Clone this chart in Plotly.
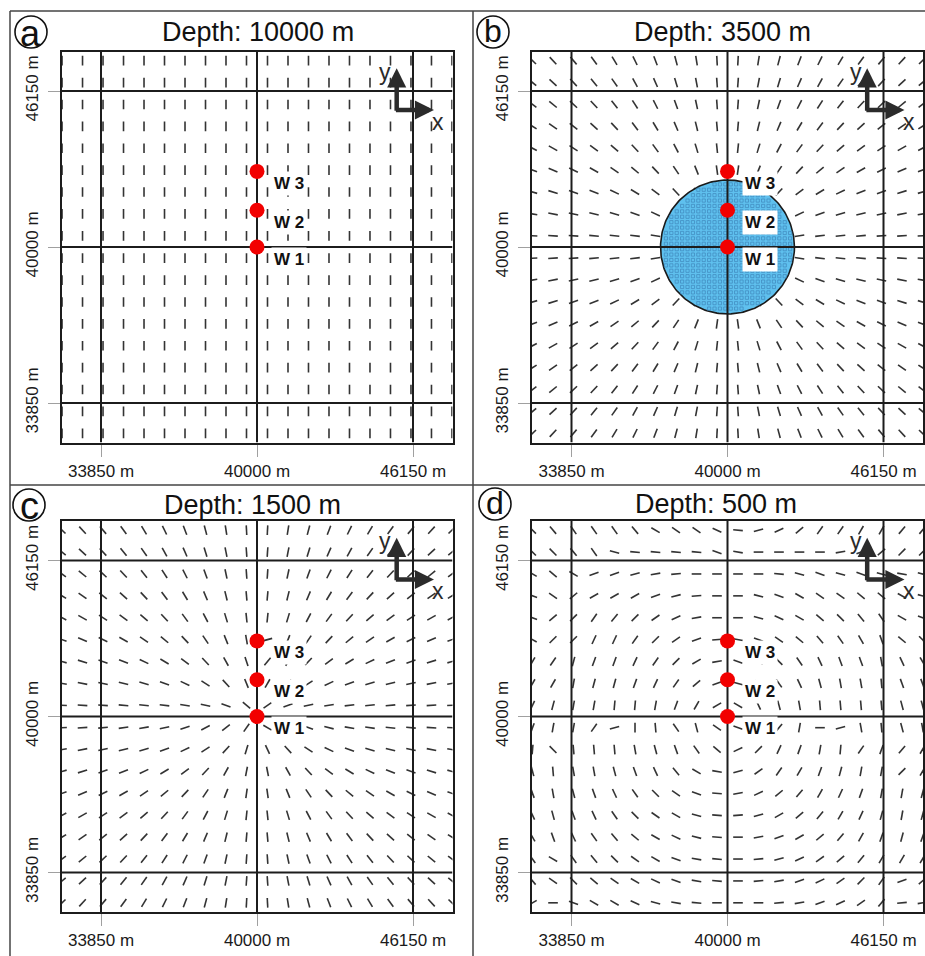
import numpy as np
import plotly.graph_objects as go

# ---------------- data ----------------
GRID_X = [32314, 33122, 33930, 34738, 35546, 36354, 37162, 37970, 38778, 39586,
          40414, 41222, 42030, 42838, 43646, 44454, 45262, 46070, 46878, 47686]
GRID_Y = [47345, 46482, 45619, 44756, 43893, 43030, 42167, 41304, 40441,
          39559, 38696, 37833, 36970, 36107, 35244, 34381, 33518, 32655]

TICKS = [33850, 40000, 46150]
TICK_TEXT = ["33850 m", "40000 m", "46150 m"]
AXIS_RANGE = [32293, 47707]

WELL_NAMES = ["W 1", "W 2", "W 3"]
WELL_X = [40000, 40000, 40000]
WELL_Y = [40000, 41450, 42980]

DEPTH_TITLES = ["Depth: 10000 m", "Depth: 3500 m", "Depth: 1500 m", "Depth: 500 m"]
PANEL_LETTERS = ["a", "b", "c", "d"]
ZONE_RADIUS_B = 2640   # radius of the blue zone in panel b (m)

# orientation (degrees from +x) of the stress-direction ticks, rows top->bottom, cols left->right
ANG_A = [
    [90, 90, 90, 90, 90, 90, 90, 90, 90, 90, 90, 90, 90, 90, 90, 90, 90, 90, 90, 90],
    [90, 90, 90, 90, 90, 90, 90, 90, 90, 90, 90, 90, 90, 90, 90, 90, 90, 90, 90, 90],
    [90, 90, 90, 90, 90, 90, 90, 90, 90, 90, 90, 90, 90, 90, 90, 90, 90, 90, 90, 90],
    [90, 90, 90, 90, 90, 90, 90, 90, 90, 90, 90, 90, 90, 90, 90, 90, 90, 90, 90, 90],
    [90, 90, 90, 90, 90, 90, 90, 90, 90, 90, 90, 90, 90, 90, 90, 90, 90, 90, 90, 90],
    [90, 90, 90, 90, 90, 90, 90, 90, 90, 90, 90, 90, 90, 90, 90, 90, 90, 90, 90, 90],
    [90, 90, 90, 90, 90, 90, 90, 90, 90, 90, 90, 90, 90, 90, 90, 90, 90, 90, 90, 90],
    [90, 90, 90, 90, 90, 90, 90, 90, 90, 90, 90, 90, 90, 90, 90, 90, 90, 90, 90, 90],
    [90, 90, 90, 90, 90, 90, 90, 90, 90, 90, 90, 90, 90, 90, 90, 90, 90, 90, 90, 90],
    [90, 90, 90, 90, 90, 90, 90, 90, 90, 90, 90, 90, 90, 90, 90, 90, 90, 90, 90, 90],
    [90, 90, 90, 90, 90, 90, 90, 90, 90, 90, 90, 90, 90, 90, 90, 90, 90, 90, 90, 90],
    [90, 90, 90, 90, 90, 90, 90, 90, 90, 90, 90, 90, 90, 90, 90, 90, 90, 90, 90, 90],
    [90, 90, 90, 90, 90, 90, 90, 90, 90, 90, 90, 90, 90, 90, 90, 90, 90, 90, 90, 90],
    [90, 90, 90, 90, 90, 90, 90, 90, 90, 90, 90, 90, 90, 90, 90, 90, 90, 90, 90, 90],
    [90, 90, 90, 90, 90, 90, 90, 90, 90, 90, 90, 90, 90, 90, 90, 90, 90, 90, 90, 90],
    [90, 90, 90, 90, 90, 90, 90, 90, 90, 90, 90, 90, 90, 90, 90, 90, 90, 90, 90, 90],
    [90, 90, 90, 90, 90, 90, 90, 90, 90, 90, 90, 90, 90, 90, 90, 90, 90, 90, 90, 90],
    [90, 90, 90, 90, 90, 90, 90, 90, 90, 90, 90, 90, 90, 90, 90, 90, 90, 90, 90, 90],
]

ANG_B = [
    [136, 133, 130, 126, 121, 116, 111, 105, 99, 93, 87, 81, 75, 69, 64, 59, 54, 50, 47, 44],
    [140, 137, 133, 129, 125, 119, 114, 107, 101, 94, 86, 79, 73, 66, 61, 55, 51, 47, 43, 40],
    [144, 141, 137, 133, 128, 123, 117, 110, 102, 94, 86, 78, 70, 63, 57, 52, 47, 43, 39, 36],
    [148, 145, 142, 138, 133, 127, 121, 113, 104, 95, 85, 76, 67, 59, 53, 47, 42, 38, 35, 32],
    [153, 151, 147, 144, 139, 133, 126, 118, 107, 96, 84, 73, 62, 54, 47, 41, 36, 33, 29, 27],
    [159, 156, 154, 150, 146, 140, 133, 124, 112, 98, 82, 68, 56, 47, 40, 34, 30, 26, 24, 21],
    [164, 163, 160, 158, 154, 149, 143, 133, 119, 101, 79, 61, 47, 37, 31, 26, 22, 20, 17, 16],
    [170, 169, 168, 166, 164, 160, 155, 147, 133, 107, 73, 47, 33, 25, 20, 16, 14, 12, 11, 10],
    [177, 176, 176, 175, 174, 173, 171, 168, 160, 133, 47, 20, 12, 9, 7, 6, 5, 4, 4, 3],
    [3, 4, 4, 5, 6, 7, 9, 12, 20, 47, 133, 160, 168, 171, 173, 174, 175, 176, 176, 177],
    [10, 11, 12, 14, 16, 20, 25, 33, 47, 73, 107, 133, 147, 155, 160, 164, 166, 168, 169, 170],
    [16, 17, 20, 22, 26, 31, 37, 47, 61, 79, 101, 119, 133, 143, 149, 154, 158, 160, 163, 164],
    [21, 24, 26, 30, 34, 40, 47, 56, 68, 82, 98, 112, 124, 133, 140, 146, 150, 154, 156, 159],
    [27, 29, 33, 36, 41, 47, 54, 62, 73, 84, 96, 107, 118, 126, 133, 139, 144, 147, 151, 153],
    [32, 35, 38, 42, 47, 53, 59, 67, 76, 85, 95, 104, 113, 121, 127, 133, 138, 142, 145, 148],
    [36, 39, 43, 47, 52, 57, 63, 70, 78, 86, 94, 102, 110, 117, 123, 128, 133, 137, 141, 144],
    [40, 43, 47, 51, 55, 61, 66, 73, 79, 86, 94, 101, 107, 114, 119, 125, 129, 133, 137, 140],
    [44, 47, 50, 54, 59, 64, 69, 75, 81, 87, 93, 99, 105, 111, 116, 121, 126, 130, 133, 136],
]

ANG_C = [
    [136, 133, 130, 126, 121, 116, 111, 105, 99, 93, 87, 81, 75, 69, 64, 59, 54, 50, 47, 44],
    [140, 137, 133, 129, 125, 119, 114, 107, 101, 94, 86, 79, 73, 66, 61, 55, 51, 47, 43, 40],
    [144, 141, 137, 133, 128, 123, 117, 110, 102, 94, 86, 78, 70, 63, 57, 52, 47, 43, 39, 36],
    [148, 145, 142, 138, 133, 127, 121, 113, 104, 95, 85, 76, 67, 59, 53, 47, 42, 38, 35, 32],
    [153, 151, 147, 144, 139, 133, 126, 118, 107, 96, 84, 73, 62, 54, 47, 41, 36, 33, 29, 27],
    [159, 156, 154, 150, 146, 140, 133, 124, 112, 100, 15, 68, 56, 47, 40, 34, 30, 26, 24, 21],
    [164, 163, 160, 158, 154, 149, 143, 133, 119, 108, 50, 61, 47, 37, 31, 26, 22, 20, 17, 16],
    [170, 169, 168, 166, 164, 160, 155, 147, 133, 112, 60, 47, 33, 25, 20, 16, 14, 12, 11, 10],
    [177, 176, 176, 175, 174, 173, 171, 168, 160, 140, 35, 20, 12, 9, 7, 6, 5, 4, 4, 3],
    [3, 4, 5, 8, 10, 12, 18, 28, 38, 55, 150, 165, 160, 166, 170, 172, 174, 175, 176, 177],
    [10, 11, 12, 14, 16, 20, 25, 33, 47, 73, 115, 133, 147, 155, 160, 164, 166, 168, 169, 170],
    [16, 17, 20, 22, 26, 31, 37, 47, 61, 79, 101, 119, 133, 143, 149, 154, 158, 160, 163, 164],
    [21, 24, 26, 30, 34, 40, 47, 56, 68, 82, 98, 112, 124, 133, 140, 146, 150, 154, 156, 159],
    [27, 29, 33, 36, 41, 47, 54, 62, 73, 84, 96, 107, 118, 126, 133, 139, 144, 147, 151, 153],
    [32, 35, 38, 42, 47, 53, 59, 67, 76, 85, 95, 104, 113, 121, 127, 133, 138, 142, 145, 148],
    [36, 39, 43, 47, 52, 57, 63, 70, 78, 86, 94, 102, 110, 117, 123, 128, 133, 137, 141, 144],
    [40, 43, 47, 51, 55, 61, 66, 73, 79, 86, 94, 101, 107, 114, 119, 125, 129, 133, 137, 140],
    [44, 47, 50, 54, 59, 64, 69, 75, 81, 87, 93, 99, 105, 111, 116, 121, 126, 130, 133, 136],
]

ANG_D = [
    [135, 130, 125, 125, 125, 130, 150, 145, 145, 155, 175, 15, 25, 40, 55, 55, 60, 60, 50, 50],
    [135, 135, 130, 125, 165, 175, 175, 175, 175, 160, 170, 0, 0, 0, 0, 10, 20, 40, 45, 45],
    [150, 140, 150, 20, 20, 15, 10, 5, 0, 0, 0, 0, 175, 165, 160, 165, 160, 165, 170, 165],
    [160, 145, 40, 30, 30, 30, 20, 15, 5, 0, 0, 165, 160, 150, 145, 145, 140, 140, 150, 165],
    [160, 40, 45, 55, 50, 45, 35, 25, 10, 0, 0, 165, 155, 150, 140, 135, 130, 125, 150, 160],
    [150, 45, 45, 65, 65, 55, 45, 35, 20, 5, 170, 160, 145, 140, 130, 125, 120, 110, 140, 135],
    [60, 55, 75, 70, 70, 65, 55, 45, 30, 10, 160, 150, 135, 125, 115, 110, 110, 100, 115, 120],
    [60, 60, 80, 75, 75, 70, 65, 55, 40, 20, 165, 140, 125, 115, 105, 100, 100, 95, 110, 110],
    [65, 75, 80, 80, 85, 85, 80, 70, 60, 30, 150, 115, 105, 100, 95, 95, 95, 95, 105, 105],
    [70, 80, 80, 55, 15, 90, 95, 125, 105, 145, 160, 30, 50, 80, 0, 15, 100, 95, 105, 100],
    [85, 135, 95, 95, 95, 100, 105, 110, 125, 140, 25, 45, 65, 70, 80, 85, 55, 70, 50, 60],
    [105, 95, 100, 100, 105, 110, 115, 130, 150, 170, 15, 35, 55, 60, 70, 75, 80, 80, 45, 60],
    [110, 100, 105, 110, 115, 125, 135, 145, 160, 175, 10, 25, 40, 50, 60, 65, 70, 80, 80, 75],
    [115, 105, 110, 115, 125, 135, 145, 150, 165, 175, 5, 15, 30, 40, 50, 60, 65, 75, 80, 75],
    [120, 110, 115, 125, 130, 140, 150, 155, 165, 175, 0, 10, 20, 30, 40, 50, 60, 70, 75, 70],
    [125, 150, 125, 130, 135, 145, 150, 160, 170, 175, 0, 5, 15, 25, 35, 40, 50, 60, 60, 60],
    [130, 145, 135, 140, 145, 150, 155, 160, 170, 175, 0, 5, 10, 20, 25, 35, 45, 55, 20, 40],
    [30, 0, 160, 150, 150, 155, 165, 170, 175, 0, 0, 0, 5, 10, 20, 25, 35, 50, 5, 10],
]

ANGLES = [ANG_A, ANG_B, ANG_C, ANG_D]

# ---------------- layout geometry ----------------
FIG_W, FIG_H = 925, 956
FONT = "Liberation Sans, Arial, sans-serif"
SEG_HALF = 190          # half length of an orientation tick (m)
M_PER_PX = (AXIS_RANGE[1] - AXIS_RANGE[0]) / 391.0


def px(x):
    return x / FIG_W


def py(y):
    return 1 - y / FIG_H


X_DOMAINS = [[px(61.5), px(452.5)], [px(532), px(923)], [px(61.5), px(452.5)], [px(532), px(923)]]
Y_DOMAINS = [[py(442.5), py(51.5)], [py(442.5), py(51.5)], [py(912), py(521)], [py(912), py(521)]]

fig = go.Figure()
annotations = []
shapes = []

seg_color = "#333333"
line_color = "#1c1c1c"

for i in range(4):
    sfx = "" if i == 0 else str(i + 1)
    xr, yr = "x" + sfx, "y" + sfx

    # orientation ticks
    xs, ys = [], []
    ang = ANGLES[i]
    for r, yc in enumerate(GRID_Y):
        for c, xc in enumerate(GRID_X):
            t = np.deg2rad(ang[r][c])
            dx, dy = SEG_HALF * np.cos(t), SEG_HALF * np.sin(t)
            xs += [xc - dx, xc + dx, None]
            ys += [yc - dy, yc + dy, None]
    fig.add_trace(go.Scatter(x=xs, y=ys, mode="lines", xaxis=xr, yaxis=yr,
                             line=dict(color=seg_color, width=1.6), hoverinfo="skip"))

    # blue zone in panel b
    if i == 1:
        th = np.linspace(0, 2 * np.pi, 241)
        cx, cy = WELL_X[0], WELL_Y[0]
        fig.add_trace(go.Scatter(x=cx + ZONE_RADIUS_B * np.cos(th), y=cy + ZONE_RADIUS_B * np.sin(th),
                                 mode="lines", fill="toself", fillcolor="#5fc0ee",
                                 line=dict(color="#1a1a1a", width=1.6), xaxis=xr, yaxis=yr,
                                 hoverinfo="skip"))
        step = 5.4 * M_PER_PX
        g = np.arange(-ZONE_RADIUS_B, ZONE_RADIUS_B + 1, step)
        gx, gy = np.meshgrid(g, g)
        inside = gx ** 2 + gy ** 2 < (ZONE_RADIUS_B - 2.5 * M_PER_PX) ** 2
        fig.add_trace(go.Scatter(x=(cx + gx[inside]), y=(cy + gy[inside]), mode="markers",
                                 marker=dict(symbol="square-open", size=3.2, color="#3f86bb",
                                             line=dict(width=0.7)),
                                 xaxis=xr, yaxis=yr, hoverinfo="skip"))

    # reference grid lines
    gxl, gyl = [], []
    for t in TICKS:
        gxl += [t, t, None]
        gyl += [AXIS_RANGE[0], AXIS_RANGE[1], None]
        gxl += [AXIS_RANGE[0], AXIS_RANGE[1], None]
        gyl += [t, t, None]
    fig.add_trace(go.Scatter(x=gxl, y=gyl, mode="lines", xaxis=xr, yaxis=yr,
                             line=dict(color=line_color, width=2), hoverinfo="skip"))

    # wells
    fig.add_trace(go.Scatter(x=WELL_X, y=WELL_Y, mode="markers", xaxis=xr, yaxis=yr,
                             marker=dict(color="#f20000", size=15, line=dict(width=0)),
                             hoverinfo="skip"))
    for name, wx, wy in zip(WELL_NAMES, WELL_X, WELL_Y):
        annotations.append(dict(x=wx, y=wy, xref=xr, yref=yr, text="<b>%s</b>" % name,
                                showarrow=False, xanchor="left", yanchor="middle",
                                xshift=14, yshift=-12, bgcolor="white", borderpad=2,
                                font=dict(family=FONT, size=17, color="#111")))

    # x / y direction arrows
    shaft_x = 45507
    corner_y = 45401
    half_w = 2.3 * M_PER_PX
    annotations.append(dict(x=shaft_x, y=47044, ax=shaft_x, ay=corner_y - half_w,
                            xref=xr, yref=yr, axref=xr, ayref=yr, text="", showarrow=True,
                            arrowhead=2, arrowsize=0.85, arrowwidth=4.5, arrowcolor="#2b2b2b"))
    annotations.append(dict(x=46977, y=corner_y, ax=shaft_x - half_w, ay=corner_y,
                            xref=xr, yref=yr, axref=xr, ayref=yr, text="", showarrow=True,
                            arrowhead=2, arrowsize=0.85, arrowwidth=4.5, arrowcolor="#2b2b2b"))
    annotations.append(dict(x=45046, y=46910, xref=xr, yref=yr, text="y", showarrow=False,
                            font=dict(family=FONT, size=23, color="#2b2b2b")))
    annotations.append(dict(x=47147, y=44939, xref=xr, yref=yr, text="x", showarrow=False,
                            font=dict(family=FONT, size=23, color="#2b2b2b")))

    axis_common = dict(range=AXIS_RANGE, tickvals=TICKS, ticktext=TICK_TEXT,
                       ticks="outside", ticklen=12, tickcolor="#a0a0a0", tickwidth=1,
                       showgrid=False, zeroline=False, showline=True, mirror=True,
                       linecolor=line_color, linewidth=2, fixedrange=True,
                       tickfont=dict(family=FONT, size=17, color="#1a1a1a"))
    fig.layout["xaxis" + sfx] = dict(axis_common, domain=X_DOMAINS[i], anchor=yr)
    fig.layout["yaxis" + sfx] = dict(axis_common, domain=Y_DOMAINS[i], anchor=xr, tickangle=-90,
                                     ticklabelstandoff=3)

# titles
TITLE_POS = [(258, 32), (722, 32), (252, 505), (716, 504)]
for t, (tx, ty) in zip(DEPTH_TITLES, TITLE_POS):
    annotations.append(dict(x=px(tx), y=py(ty), xref="paper", yref="paper", text=t,
                            showarrow=False, xanchor="center", yanchor="middle",
                            font=dict(family=FONT, size=27, color="#111")))

# circled panel letters
LETTER_POS = [(31, 32), (493, 32), (29, 505), (495, 504)]
LETTER_SIZE = [36, 32, 38, 32]
LETTER_SHIFT = [-2, 1, -1, 1]
for lt, (lx, ly), ls, sh in zip(PANEL_LETTERS, LETTER_POS, LETTER_SIZE, LETTER_SHIFT):
    r = 16
    shapes.append(dict(type="circle", xref="paper", yref="paper",
                       x0=px(lx - r), x1=px(lx + r), y0=py(ly + r), y1=py(ly - r),
                       line=dict(color="#111", width=1.6)))
    annotations.append(dict(x=px(lx), y=py(ly), xref="paper", yref="paper", text=lt,
                            showarrow=False, xanchor="center", yanchor="middle", yshift=sh,
                            font=dict(family=FONT, size=ls, color="#111")))

# panel frame lines
frame = dict(color="#444", width=1.5)
shapes += [
    dict(type="line", xref="paper", yref="paper", x0=px(10), x1=px(10), y0=py(11), y1=0, line=frame),
    dict(type="line", xref="paper", yref="paper", x0=px(10), x1=1, y0=py(11), y1=py(11), line=frame),
    dict(type="line", xref="paper", yref="paper", x0=px(473), x1=px(473), y0=py(11), y1=0, line=frame),
    dict(type="line", xref="paper", yref="paper", x0=px(10), x1=1, y0=py(485), y1=py(485), line=frame),
]

fig.update_layout(width=FIG_W, height=FIG_H, margin=dict(l=0, r=0, t=0, b=0),
                  paper_bgcolor="white", plot_bgcolor="white", showlegend=False,
                  annotations=annotations, shapes=shapes)

fig.write_html("out.html")
